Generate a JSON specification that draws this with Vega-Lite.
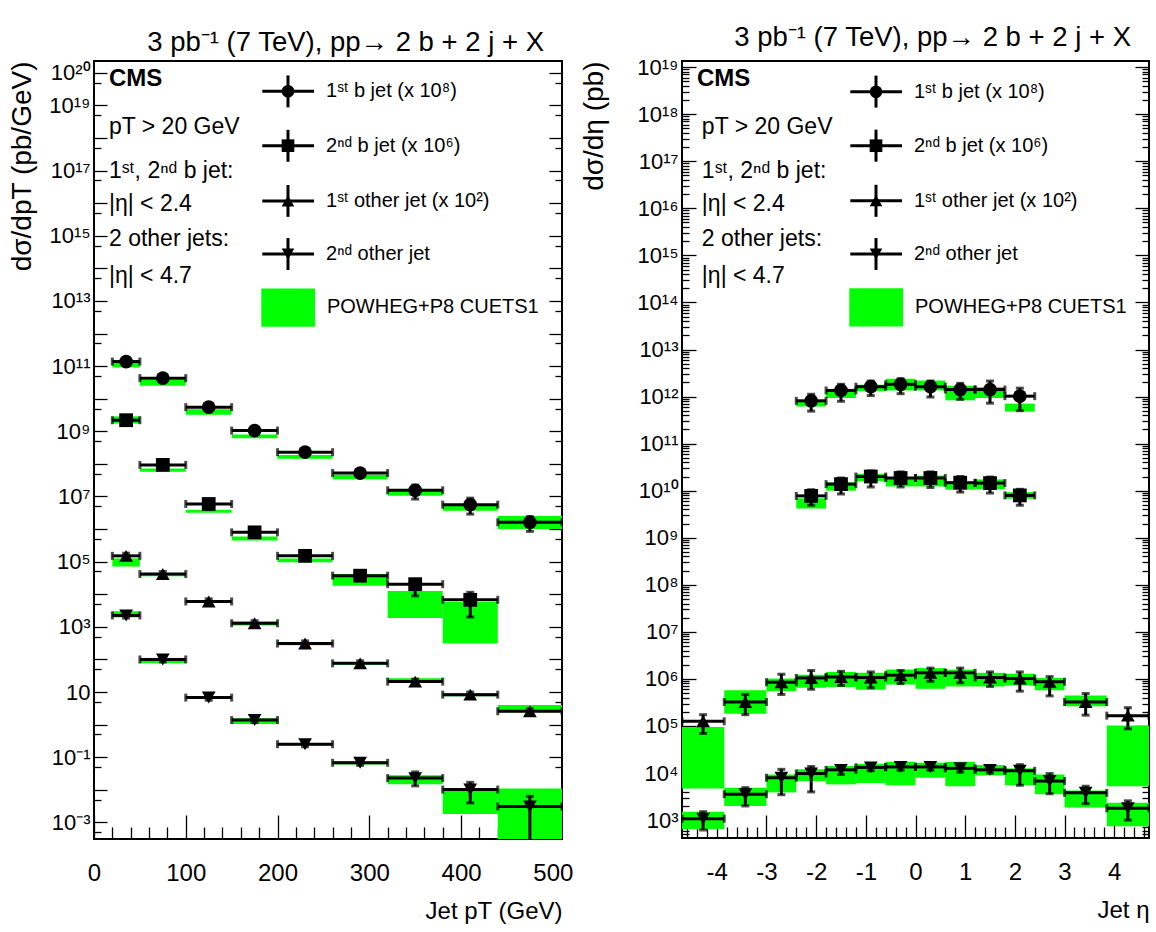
{
"$schema": "https://vega.github.io/schema/vega-lite/v6.json",
"background": "white",
"padding": {"left": 7, "top": 22, "right": 5, "bottom": 5},
"spacing": 5,
"config": {
 "font": "Liberation Sans",
 "view": {"stroke": "black", "strokeWidth": 2},
 "axis": {"domain": false, "grid": false, "tickColor": "black", "tickWidth": 1.3, "labelColor": "black", "titleColor": "black", "titleFontWeight": "normal", "labelFont": "Liberation Sans", "titleFont": "Liberation Sans"},
 "title": {"font": "Liberation Sans", "fontWeight": "normal", "color": "black"},
 "text": {"font": "Liberation Sans", "color": "black"}
},
"datasets": {
 "pt": [
  {"s":"b1","lo":20,"hi":50,"c":35,"v":1.38e11,"elo":1.15e11,"ehi":1.66e11,"mlo":9.12e10,"mhi":1.55e11},
  {"s":"b1","lo":50,"hi":100,"c":75,"v":4.27e10,"elo":3.55e10,"ehi":5.13e10,"mlo":2.51e10,"mhi":3.72e10},
  {"s":"b1","lo":100,"hi":150,"c":125,"v":5.5e9,"elo":4.57e9,"ehi":6.61e9,"mlo":3.24e9,"mhi":4.79e9},
  {"s":"b1","lo":150,"hi":200,"c":175,"v":1.05e9,"elo":8.71e8,"ehi":1.26e9,"mlo":6.17e8,"mhi":7.94e8},
  {"s":"b1","lo":200,"hi":260,"c":230,"v":2.29e8,"elo":1.91e8,"ehi":2.75e8,"mlo":1.45e8,"mhi":1.86e8},
  {"s":"b1","lo":260,"hi":320,"c":290,"v":5.25e7,"elo":4.27e7,"ehi":6.46e7,"mlo":3.39e7,"mhi":4.68e7},
  {"s":"b1","lo":320,"hi":380,"c":350,"v":1.55e7,"elo":8.32e6,"ehi":2.24e7,"mlo":1.05e7,"mhi":1.45e7},
  {"s":"b1","lo":380,"hi":440,"c":410,"v":5.62e6,"elo":2.88e6,"ehi":8.91e6,"mlo":3.63e6,"mhi":5.62e6},
  {"s":"b1","lo":440,"hi":510,"c":475,"v":1.62e6,"elo":8.51e5,"ehi":2.4e6,"mlo":1.0e6,"mhi":2.51e6},
  {"s":"b2","lo":20,"hi":50,"c":35,"v":2.19e9,"elo":1.82e9,"ehi":2.63e9,"mlo":1.74e9,"mhi":2.88e9},
  {"s":"b2","lo":50,"hi":100,"c":75,"v":9.33e7,"elo":7.76e7,"ehi":1.12e8,"mlo":5.75e7,"mhi":7.24e7},
  {"s":"b2","lo":100,"hi":150,"c":125,"v":5.89e6,"elo":4.9e6,"ehi":7.08e6,"mlo":3.16e6,"mhi":3.89e6},
  {"s":"b2","lo":150,"hi":200,"c":175,"v":7.94e5,"elo":6.61e5,"ehi":9.55e5,"mlo":4.47e5,"mhi":5.89e5},
  {"s":"b2","lo":200,"hi":260,"c":230,"v":1.51e5,"elo":1.26e5,"ehi":1.82e5,"mlo":9.55e4,"mhi":1.26e5},
  {"s":"b2","lo":260,"hi":320,"c":290,"v":3.72e4,"elo":2.95e4,"ehi":4.68e4,"mlo":1.82e4,"mhi":4.17e4},
  {"s":"b2","lo":320,"hi":380,"c":350,"v":2.04e4,"elo":8.91e3,"ehi":2.82e4,"mlo":1.86e3,"mhi":1.26e4},
  {"s":"b2","lo":380,"hi":440,"c":410,"v":6.76e3,"elo":2.0e3,"ehi":1.15e4,"mlo":309,"mhi":5.75e3},
  {"s":"o1","lo":20,"hi":50,"c":35,"v":1.51e5,"elo":1.26e5,"ehi":1.82e5,"mlo":7.08e4,"mhi":1.26e5},
  {"s":"o1","lo":50,"hi":100,"c":75,"v":4.17e4,"elo":3.47e4,"ehi":5.01e4,"mlo":3.55e4,"mhi":4.37e4},
  {"s":"o1","lo":100,"hi":150,"c":125,"v":6.03e3,"elo":5.01e3,"ehi":7.24e3,"mlo":5.37e3,"mhi":6.46e3},
  {"s":"o1","lo":150,"hi":200,"c":175,"v":1.29e3,"elo":1.07e3,"ehi":1.55e3,"mlo":1.1e3,"mhi":1.45e3},
  {"s":"o1","lo":200,"hi":260,"c":230,"v":309,"elo":257,"ehi":372,"mlo":275,"mhi":339},
  {"s":"o1","lo":260,"hi":320,"c":290,"v":75.9,"elo":63,"ehi":91,"mlo":69.2,"mhi":81.3},
  {"s":"o1","lo":320,"hi":380,"c":350,"v":20.9,"elo":17.4,"ehi":25.1,"mlo":20.9,"mhi":26.3},
  {"s":"o1","lo":380,"hi":440,"c":410,"v":8.32,"elo":6.9,"ehi":10,"mlo":7.41,"mhi":9.33},
  {"s":"o1","lo":440,"hi":510,"c":475,"v":2.57,"elo":2.14,"ehi":3.09,"mlo":2.4,"mhi":3.98},
  {"s":"o2","lo":20,"hi":50,"c":35,"v":2.24e3,"elo":1.86e3,"ehi":2.69e3,"mlo":1.95e3,"mhi":3.02e3},
  {"s":"o2","lo":50,"hi":100,"c":75,"v":100,"elo":83,"ehi":120,"mlo":75.9,"mhi":102},
  {"s":"o2","lo":100,"hi":150,"c":125,"v":6.76,"elo":5.62,"ehi":8.13,"mlo":6.17,"mhi":7.59},
  {"s":"o2","lo":150,"hi":200,"c":175,"v":1.38,"elo":1.15,"ehi":1.66,"mlo":1.05,"mhi":1.58},
  {"s":"o2","lo":200,"hi":260,"c":230,"v":0.251,"elo":0.209,"ehi":0.302,"mlo":0.229,"mhi":0.275},
  {"s":"o2","lo":260,"hi":320,"c":290,"v":0.0676,"elo":0.0562,"ehi":0.0813,"mlo":0.0603,"mhi":0.0759},
  {"s":"o2","lo":320,"hi":380,"c":350,"v":0.0229,"elo":0.0132,"ehi":0.0355,"mlo":0.0148,"mhi":0.0282},
  {"s":"o2","lo":380,"hi":440,"c":410,"v":0.0102,"elo":0.00398,"ehi":0.017,"mlo":0.00182,"mhi":0.011},
  {"s":"o2","lo":440,"hi":510,"c":475,"v":0.00309,"elo":0.00001,"ehi":0.0063,"mlo":0.0001,"mhi":0.011}
 ],
 "eta": [
  {"s":"b1","lo":-2.4,"hi":-1.8,"c":-2.1,"v":8.13e11,"elo":4.9e11,"ehi":1.12e12,"mlo":6.17e11,"mhi":7.76e11},
  {"s":"b1","lo":-1.8,"hi":-1.2,"c":-1.5,"v":1.35e12,"elo":7.94e11,"ehi":1.82e12,"mlo":9.33e11,"mhi":1.29e12},
  {"s":"b1","lo":-1.2,"hi":-0.6,"c":-0.9,"v":1.62e12,"elo":1.05e12,"ehi":2.14e12,"mlo":1.29e12,"mhi":1.78e12},
  {"s":"b1","lo":-0.6,"hi":0,"c":-0.3,"v":1.82e12,"elo":1.15e12,"ehi":2.4e12,"mlo":1.35e12,"mhi":2.4e12},
  {"s":"b1","lo":0,"hi":0.6,"c":0.3,"v":1.62e12,"elo":9.77e11,"ehi":2.14e12,"mlo":1.35e12,"mhi":2.19e12},
  {"s":"b1","lo":0.6,"hi":1.2,"c":0.9,"v":1.41e12,"elo":8.71e11,"ehi":1.91e12,"mlo":8.32e11,"mhi":1.7e12},
  {"s":"b1","lo":1.2,"hi":1.8,"c":1.5,"v":1.41e12,"elo":7.24e11,"ehi":2.14e12,"mlo":9.33e11,"mhi":1.58e12},
  {"s":"b1","lo":1.8,"hi":2.4,"c":2.1,"v":1.02e12,"elo":5.01e11,"ehi":1.51e12,"mlo":4.79e11,"mhi":7.08e11},
  {"s":"b2","lo":-2.4,"hi":-1.8,"c":-2.1,"v":7.76e9,"elo":4.9e9,"ehi":1.05e10,"mlo":4.17e9,"mhi":6.92e9},
  {"s":"b2","lo":-1.8,"hi":-1.2,"c":-1.5,"v":1.38e10,"elo":8.51e9,"ehi":1.86e10,"mlo":1.0e10,"mhi":1.51e10},
  {"s":"b2","lo":-1.2,"hi":-0.6,"c":-0.9,"v":2.0e10,"elo":1.2e10,"ehi":2.63e10,"mlo":1.58e10,"mhi":2.29e10},
  {"s":"b2","lo":-0.6,"hi":0,"c":-0.3,"v":1.86e10,"elo":1.2e10,"ehi":2.51e10,"mlo":1.23e10,"mhi":1.95e10},
  {"s":"b2","lo":0,"hi":0.6,"c":0.3,"v":1.86e10,"elo":1.17e10,"ehi":2.51e10,"mlo":1.23e10,"mhi":2.09e10},
  {"s":"b2","lo":0.6,"hi":1.2,"c":0.9,"v":1.48e10,"elo":9.33e9,"ehi":2.0e10,"mlo":1.05e10,"mhi":1.48e10},
  {"s":"b2","lo":1.2,"hi":1.8,"c":1.5,"v":1.45e10,"elo":8.91e9,"ehi":1.95e10,"mlo":1.07e10,"mhi":1.74e10},
  {"s":"b2","lo":1.8,"hi":2.4,"c":2.1,"v":7.94e9,"elo":4.9e9,"ehi":1.07e10,"mlo":6.76e9,"mhi":9.33e9},
  {"s":"o1","lo":-4.7,"hi":-3.85,"c":-4.275,"v":1.26e5,"elo":6.92e4,"ehi":1.74e5,"mlo":4.68e3,"mhi":9.55e4},
  {"s":"o1","lo":-3.85,"hi":-3.0,"c":-3.425,"v":3.24e5,"elo":1.74e5,"ehi":4.68e5,"mlo":1.82e5,"mhi":5.75e5},
  {"s":"o1","lo":-3.0,"hi":-2.4,"c":-2.7,"v":8.51e5,"elo":4.68e5,"ehi":1.26e6,"mlo":5.5e5,"mhi":1.02e6},
  {"s":"o1","lo":-2.4,"hi":-1.8,"c":-2.1,"v":1.05e6,"elo":6.03e5,"ehi":1.51e6,"mlo":6.46e5,"mhi":1.23e6},
  {"s":"o1","lo":-1.8,"hi":-1.2,"c":-1.5,"v":1.1e6,"elo":7.24e5,"ehi":1.45e6,"mlo":6.76e5,"mhi":1.41e6},
  {"s":"o1","lo":-1.2,"hi":-0.6,"c":-0.9,"v":1.07e6,"elo":6.46e5,"ehi":1.41e6,"mlo":5.89e5,"mhi":1.35e6},
  {"s":"o1","lo":-0.6,"hi":0,"c":-0.3,"v":1.2e6,"elo":7.94e5,"ehi":1.51e6,"mlo":7.59e5,"mhi":1.58e6},
  {"s":"o1","lo":0,"hi":0.6,"c":0.3,"v":1.35e6,"elo":8.91e5,"ehi":1.7e6,"mlo":6.17e5,"mhi":1.7e6},
  {"s":"o1","lo":0.6,"hi":1.2,"c":0.9,"v":1.35e6,"elo":8.32e5,"ehi":1.7e6,"mlo":6.92e5,"mhi":1.58e6},
  {"s":"o1","lo":1.2,"hi":1.8,"c":1.5,"v":1.07e6,"elo":6.92e5,"ehi":1.41e6,"mlo":6.92e5,"mhi":1.35e6},
  {"s":"o1","lo":1.8,"hi":2.4,"c":2.1,"v":1.02e6,"elo":5.5e5,"ehi":1.41e6,"mlo":7.24e5,"mhi":1.29e6},
  {"s":"o1","lo":2.4,"hi":3.0,"c":2.7,"v":8.71e5,"elo":4.37e5,"ehi":1.12e6,"mlo":5.75e5,"mhi":1.05e6},
  {"s":"o1","lo":3.0,"hi":3.85,"c":3.425,"v":3.24e5,"elo":1.7e5,"ehi":4.9e5,"mlo":2.63e5,"mhi":4.47e5},
  {"s":"o1","lo":3.85,"hi":4.7,"c":4.275,"v":1.66e5,"elo":8.71e4,"ehi":2.45e5,"mlo":5.25e3,"mhi":1.02e5},
  {"s":"o2","lo":-4.7,"hi":-3.85,"c":-4.275,"v":1.07e3,"elo":617,"ehi":1.51e3,"mlo":646,"mhi":1.51e3},
  {"s":"o2","lo":-3.85,"hi":-3.0,"c":-3.425,"v":3.55e3,"elo":2.0e3,"ehi":4.9e3,"mlo":2.0e3,"mhi":4.9e3},
  {"s":"o2","lo":-3.0,"hi":-2.4,"c":-2.7,"v":7.94e3,"elo":3.47e3,"ehi":1.2e4,"mlo":3.89e3,"mhi":9.33e3},
  {"s":"o2","lo":-2.4,"hi":-1.8,"c":-2.1,"v":9.77e3,"elo":3.98e3,"ehi":1.38e4,"mlo":6.76e3,"mhi":1.2e4},
  {"s":"o2","lo":-1.8,"hi":-1.2,"c":-1.5,"v":1.17e4,"elo":9.33e3,"ehi":1.29e4,"mlo":5.75e3,"mhi":1.41e4},
  {"s":"o2","lo":-1.2,"hi":-0.6,"c":-0.9,"v":1.32e4,"elo":1.12e4,"ehi":1.45e4,"mlo":6.17e3,"mhi":1.58e4},
  {"s":"o2","lo":-0.6,"hi":0,"c":-0.3,"v":1.35e4,"elo":1.15e4,"ehi":1.48e4,"mlo":5.5e3,"mhi":1.74e4},
  {"s":"o2","lo":0,"hi":0.6,"c":0.3,"v":1.35e4,"elo":1.15e4,"ehi":1.48e4,"mlo":7.94e3,"mhi":1.66e4},
  {"s":"o2","lo":0.6,"hi":1.2,"c":0.9,"v":1.26e4,"elo":1.05e4,"ehi":1.41e4,"mlo":5.25e3,"mhi":1.74e4},
  {"s":"o2","lo":1.2,"hi":1.8,"c":1.5,"v":1.17e4,"elo":1.0e4,"ehi":1.32e4,"mlo":8.91e3,"mhi":1.48e4},
  {"s":"o2","lo":1.8,"hi":2.4,"c":2.1,"v":1.12e4,"elo":5.5e3,"ehi":1.51e4,"mlo":5.5e3,"mhi":1.26e4},
  {"s":"o2","lo":2.4,"hi":3.0,"c":2.7,"v":6.76e3,"elo":3.63e3,"ehi":9.77e3,"mlo":3.55e3,"mhi":9.33e3},
  {"s":"o2","lo":3.0,"hi":3.85,"c":3.425,"v":3.8e3,"elo":2.24e3,"ehi":5.25e3,"mlo":1.86e3,"mhi":4.27e3},
  {"s":"o2","lo":3.85,"hi":4.7,"c":4.275,"v":1.78e3,"elo":1.0e3,"ehi":2.57e3,"mlo":741,"mhi":2.34e3}
 ],
 "legL": [
  {"s":"b1","lx":211.4,"ly":2.7e19,"xa":183.4,"xb":239.8,"ya":8.7e18,"yb":8.3e19,"label":"1ˢᵗ b jet (x 10⁸)"},
  {"s":"b2","lx":211.4,"ly":5.8e17,"xa":183.4,"xb":239.8,"ya":1.86e17,"yb":1.78e18,"label":"2ⁿᵈ b jet (x 10⁶)"},
  {"s":"o1","lx":211.4,"ly":1.17e16,"xa":183.4,"xb":239.8,"ya":3.8e15,"yb":3.6e16,"label":"1ˢᵗ other jet (x 10²)"},
  {"s":"o2","lx":211.4,"ly":2.75e14,"xa":183.4,"xb":239.8,"ya":8.9e13,"yb":8.5e14,"label":"2ⁿᵈ other jet"},
  {"s":"mc","lx":211.4,"ly":6.3e12,"xa":182.3,"xb":240.8,"ya":1.62e12,"yb":2.4e13,"label":"POWHEG+P8 CUETS1"}
 ],
 "legR": [
  {"s":"b1","lx":-0.795,"ly":3.0e18,"xa":-1.312,"xb":-0.272,"ya":1.38e18,"yb":6.6e18,"label":"1ˢᵗ b jet (x 10⁸)"},
  {"s":"b2","lx":-0.795,"ly":2.14e17,"xa":-1.312,"xb":-0.272,"ya":9.8e16,"yb":4.7e17,"label":"2ⁿᵈ b jet (x 10⁶)"},
  {"s":"o1","lx":-0.795,"ly":1.45e16,"xa":-1.312,"xb":-0.272,"ya":6.6e15,"yb":3.16e16,"label":"1ˢᵗ other jet (x 10²)"},
  {"s":"o2","lx":-0.795,"ly":1.07e15,"xa":-1.312,"xb":-0.272,"ya":4.9e14,"yb":2.34e15,"label":"2ⁿᵈ other jet"},
  {"s":"mc","lx":-0.795,"ly":7.9e13,"xa":-1.333,"xb":-0.252,"ya":3.1e13,"yb":2.0e14,"label":"POWHEG+P8 CUETS1"}
 ],
 "annL": [
  {"t":"CMS","x":16.3,"y":6.3e19},
  {"t":"pT > 20 GeV","x":16.3,"y":2.14e18},
  {"t":"1ˢᵗ, 2ⁿᵈ b jet:","x":16.3,"y":9.8e16},
  {"t":"|η| < 2.4","x":16.3,"y":9.3e15},
  {"t":"2 other jets:","x":16.3,"y":7.9e14},
  {"t":"|η| < 4.7","x":16.3,"y":5.9e13}
 ],
 "annR": [
  {"t":"CMS","x":-4.4,"y":5.6e18},
  {"t":"pT > 20 GeV","x":-4.3,"y":5.4e17},
  {"t":"1ˢᵗ, 2ⁿᵈ b jet:","x":-4.3,"y":6.3e16},
  {"t":"|η| < 2.4","x":-4.3,"y":1.23e16},
  {"t":"2 other jets:","x":-4.3,"y":2.24e15},
  {"t":"|η| < 4.7","x":-4.3,"y":3.7e14}
 ]
},
"hconcat": [
 {
  "width": 468, "height": 778,
  "title": {"text": "3 pb⁻¹ (7 TeV), pp→ 2 b + 2 j + X", "anchor": "end", "frame": "group", "fontSize": 27.5, "fontWeight": "normal", "dx": -18, "offset": 5},
  "resolve": {"axis": {"x": "independent", "y": "independent"}},
  "layer": [
   {"data": {"name": "pt"}, "mark": {"type": "rect", "color": "#00ff00", "clip": true},
    "encoding": {
     "x": {"field": "lo", "type": "quantitative", "scale": {"domain": [0, 510], "nice": false, "zero": false},
       "axis": {"orient": "bottom", "values": [0,20,40,60,80,100,120,140,160,180,200,220,240,260,280,300,320,340,360,380,400,420,440,460,480,500],
        "labelExpr": "datum.value % 100 === 0 ? '' + datum.value : ''",
        "tickSize": {"condition": {"test": "datum.value % 100 === 0", "value": -24}, "value": -12},
        "labelPadding": 46, "labelFontSize": 24, "labelOverlap": false, "labelFlush": false,
        "title": "Jet pT (GeV)", "titleAnchor": "end", "titleFontSize": 24, "titlePadding": 2}},
     "x2": {"field": "hi"},
     "y": {"field": "mlo", "type": "quantitative", "scale": {"type": "log", "domain": [3.1e-4, 2.3e20], "nice": false},
       "axis": {"orient": "left", "values": [5e-4,1e-3,5e-3,0.01,0.05,0.1,0.5,1,5,10,50,100,500,1000,5000,1e4,5e4,1e5,5e5,1e6,5e6,1e7,5e7,1e8,5e8,1e9,5e9,1e10,5e10,1e11,5e11,1e12,5e12,1e13,5e13,1e14,5e14,1e15,5e15,1e16,5e16,1e17,5e17,1e18,5e18,1e19,5e19,1e20],
        "labelExpr": "abs(log(datum.value)/LN10 - round(log(datum.value)/LN10)) > 0.01 ? '' : ['10⁻³','','10⁻¹','','10','','10³','','10⁵','','10⁷','','10⁹','','10¹¹','','10¹³','','10¹⁵','','10¹⁷','','10¹⁹','10²⁰'][round(log(datum.value)/LN10)+3]",
        "tickSize": {"condition": {"test": "abs(log(datum.value)/LN10 - round(log(datum.value)/LN10)) < 0.01", "value": -13}, "value": -7},
        "labelPadding": 17, "labelFontSize": 22, "labelOverlap": false, "labelFlush": false,
        "title": "dσ/dpT (pb/GeV)", "titleAnchor": "end", "titleFontSize": 28, "titlePadding": 12}},
     "y2": {"field": "mhi"}
    }},
   {"data": {"name": "pt"}, "mark": {"type": "errorbar", "ticks": true, "thickness": 3, "size": 8, "color": "black", "clip": true},
    "encoding": {
     "x": {"field": "lo", "type": "quantitative", "scale": {"domain": [0, 510], "nice": false, "zero": false}, "axis": null},
     "x2": {"field": "hi"},
     "y": {"field": "v", "type": "quantitative", "scale": {"type": "log", "domain": [3.1e-4, 2.3e20], "nice": false}, "axis": null}
    }},
   {"data": {"name": "pt"}, "mark": {"type": "errorbar", "ticks": true, "thickness": 3, "size": 8, "color": "black", "clip": true},
    "encoding": {
     "x": {"field": "c", "type": "quantitative", "scale": {"domain": [0, 510], "nice": false, "zero": false}, "axis": null},
     "y": {"field": "elo", "type": "quantitative", "scale": {"type": "log", "domain": [3.1e-4, 2.3e20], "nice": false}, "axis": null},
     "y2": {"field": "ehi"}
    }},
   {"data": {"name": "pt"}, "mark": {"type": "point", "filled": true, "opacity": 1, "color": "black", "size": 190, "clip": true},
    "encoding": {
     "x": {"field": "c", "type": "quantitative", "scale": {"domain": [0, 510], "nice": false, "zero": false}, "axis": null},
     "y": {"field": "v", "type": "quantitative", "scale": {"type": "log", "domain": [3.1e-4, 2.3e20], "nice": false},
       "axis": {"orient": "right", "values": [5e-4,1e-3,5e-3,0.01,0.05,0.1,0.5,1,5,10,50,100,500,1000,5000,1e4,5e4,1e5,5e5,1e6,5e6,1e7,5e7,1e8,5e8,1e9,5e9,1e10,5e10,1e11,5e11,1e12,5e12,1e13,5e13,1e14,5e14,1e15,5e15,1e16,5e16,1e17,5e17,1e18,5e18,1e19,5e19,1e20],
        "labels": false, "title": null,
        "tickSize": {"condition": {"test": "abs(log(datum.value)/LN10 - round(log(datum.value)/LN10)) < 0.01", "value": -13}, "value": -7}}},
     "shape": {"field": "s", "type": "nominal", "scale": {"domain": ["b1","b2","o1","o2"], "range": ["circle","square","triangle-up","triangle-down"]}, "legend": null}
    }},
   {"data": {"name": "legL"}, "transform": [{"filter": "datum.s != 'mc'"}], "mark": {"type": "rule", "strokeWidth": 3, "color": "black"},
    "encoding": {
     "x": {"field": "xa", "type": "quantitative", "scale": {"domain": [0, 510], "nice": false, "zero": false}, "axis": null},
     "x2": {"field": "xb"},
     "y": {"field": "ly", "type": "quantitative", "scale": {"type": "log", "domain": [3.1e-4, 2.3e20], "nice": false}, "axis": null}
    }},
   {"data": {"name": "legL"}, "transform": [{"filter": "datum.s != 'mc'"}], "mark": {"type": "rule", "strokeWidth": 3, "color": "black"},
    "encoding": {
     "x": {"field": "lx", "type": "quantitative", "scale": {"domain": [0, 510], "nice": false, "zero": false}, "axis": null},
     "y": {"field": "ya", "type": "quantitative", "scale": {"type": "log", "domain": [3.1e-4, 2.3e20], "nice": false}, "axis": null},
     "y2": {"field": "yb"}
    }},
   {"data": {"name": "legL"}, "transform": [{"filter": "datum.s != 'mc'"}], "mark": {"type": "point", "filled": true, "opacity": 1, "color": "black", "size": 160},
    "encoding": {
     "x": {"field": "lx", "type": "quantitative", "scale": {"domain": [0, 510], "nice": false, "zero": false}, "axis": null},
     "y": {"field": "ly", "type": "quantitative", "scale": {"type": "log", "domain": [3.1e-4, 2.3e20], "nice": false}, "axis": null},
     "shape": {"field": "s", "type": "nominal", "scale": {"domain": ["b1","b2","o1","o2"], "range": ["circle","square","triangle-up","triangle-down"]}, "legend": null}
    }},
   {"data": {"name": "legL"}, "transform": [{"filter": "datum.s == 'mc'"}], "mark": {"type": "rect", "color": "#00ff00"},
    "encoding": {
     "x": {"field": "xa", "type": "quantitative", "scale": {"domain": [0, 510], "nice": false, "zero": false}, "axis": null},
     "x2": {"field": "xb"},
     "y": {"field": "ya", "type": "quantitative", "scale": {"type": "log", "domain": [3.1e-4, 2.3e20], "nice": false}, "axis": null},
     "y2": {"field": "yb"}
    }},
   {"data": {"name": "legL"}, "mark": {"type": "text", "align": "left", "baseline": "middle", "fontSize": 20, "dx": 12},
    "encoding": {
     "x": {"field": "xb", "type": "quantitative", "scale": {"domain": [0, 510], "nice": false, "zero": false}, "axis": null},
     "y": {"field": "ly", "type": "quantitative", "scale": {"type": "log", "domain": [3.1e-4, 2.3e20], "nice": false}, "axis": null},
     "text": {"field": "label"}
    }},
   {"data": {"name": "annL"}, "transform": [{"filter": "datum.t == 'CMS'"}], "mark": {"type": "text", "align": "left", "baseline": "middle", "fontSize": 24, "fontWeight": "bold"},
    "encoding": {
     "x": {"field": "x", "type": "quantitative", "scale": {"domain": [0, 510], "nice": false, "zero": false}, "axis": null},
     "y": {"field": "y", "type": "quantitative", "scale": {"type": "log", "domain": [3.1e-4, 2.3e20], "nice": false}, "axis": null},
     "text": {"field": "t"}
    }},
   {"data": {"name": "annL"}, "transform": [{"filter": "datum.t != 'CMS'"}], "mark": {"type": "text", "align": "left", "baseline": "middle", "fontSize": 23},
    "encoding": {
     "x": {"field": "x", "type": "quantitative", "scale": {"domain": [0, 510], "nice": false, "zero": false}, "axis": null},
     "y": {"field": "y", "type": "quantitative", "scale": {"type": "log", "domain": [3.1e-4, 2.3e20], "nice": false}, "axis": null},
     "text": {"field": "t"}
    }}
  ]
 },
 {
  "width": 467, "height": 777,
  "title": {"text": "3 pb⁻¹ (7 TeV), pp→ 2 b + 2 j + X", "anchor": "end", "frame": "group", "fontSize": 27.5, "fontWeight": "normal", "dx": -18, "offset": 5},
  "resolve": {"axis": {"x": "independent", "y": "independent"}},
  "layer": [
   {"data": {"name": "eta"}, "mark": {"type": "rect", "color": "#00ff00", "clip": true},
    "encoding": {
     "x": {"field": "lo", "type": "quantitative", "scale": {"domain": [-4.7, 4.7], "nice": false, "zero": false},
       "axis": {"orient": "bottom", "values": [-4.6,-4.4,-4.2,-4,-3.8,-3.6,-3.4,-3.2,-3,-2.8,-2.6,-2.4,-2.2,-2,-1.8,-1.6,-1.4,-1.2,-1,-0.8,-0.6,-0.4,-0.2,0,0.2,0.4,0.6,0.8,1,1.2,1.4,1.6,1.8,2,2.2,2.4,2.6,2.8,3,3.2,3.4,3.6,3.8,4,4.2,4.4,4.6],
        "labelExpr": "abs(datum.value - round(datum.value)) < 0.001 ? '' + round(datum.value) : ''",
        "tickSize": {"condition": {"test": "abs(datum.value - round(datum.value)) < 0.001", "value": -23}, "value": -11},
        "labelPadding": 45, "labelFontSize": 24, "labelOverlap": false, "labelFlush": false,
        "title": "Jet η", "titleAnchor": "end", "titleFontSize": 24, "titlePadding": 2}},
     "x2": {"field": "hi"},
     "y": {"field": "mlo", "type": "quantitative", "scale": {"type": "log", "domain": [417, 1.35e19], "nice": false},
       "axis": {"orient": "left", "values": [500,600,700,800,900,1e3,2e3,3e3,4e3,5e3,6e3,7e3,8e3,9e3,1e4,2e4,3e4,4e4,5e4,6e4,7e4,8e4,9e4,1e5,2e5,3e5,4e5,5e5,6e5,7e5,8e5,9e5,1e6,2e6,3e6,4e6,5e6,6e6,7e6,8e6,9e6,1e7,2e7,3e7,4e7,5e7,6e7,7e7,8e7,9e7,1e8,2e8,3e8,4e8,5e8,6e8,7e8,8e8,9e8,1e9,2e9,3e9,4e9,5e9,6e9,7e9,8e9,9e9,1e10,2e10,3e10,4e10,5e10,6e10,7e10,8e10,9e10,1e11,2e11,3e11,4e11,5e11,6e11,7e11,8e11,9e11,1e12,2e12,3e12,4e12,5e12,6e12,7e12,8e12,9e12,1e13,2e13,3e13,4e13,5e13,6e13,7e13,8e13,9e13,1e14,2e14,3e14,4e14,5e14,6e14,7e14,8e14,9e14,1e15,2e15,3e15,4e15,5e15,6e15,7e15,8e15,9e15,1e16,2e16,3e16,4e16,5e16,6e16,7e16,8e16,9e16,1e17,2e17,3e17,4e17,5e17,6e17,7e17,8e17,9e17,1e18,2e18,3e18,4e18,5e18,6e18,7e18,8e18,9e18,1e19],
        "labelExpr": "abs(log(datum.value)/LN10 - round(log(datum.value)/LN10)) > 0.01 ? '' : ['10³','10⁴','10⁵','10⁶','10⁷','10⁸','10⁹','10¹⁰','10¹¹','10¹²','10¹³','10¹⁴','10¹⁵','10¹⁶','10¹⁷','10¹⁸','10¹⁹'][round(log(datum.value)/LN10)-3]",
        "tickSize": {"condition": {"test": "abs(log(datum.value)/LN10 - round(log(datum.value)/LN10)) < 0.01", "value": -14}, "value": -7},
        "labelPadding": 18, "labelFontSize": 22, "labelOverlap": false, "labelFlush": false,
        "title": "dσ/dη (pb)", "titleAnchor": "end", "titleFontSize": 28, "titlePadding": 28}},
     "y2": {"field": "mhi"}
    }},
   {"data": {"name": "eta"}, "mark": {"type": "errorbar", "ticks": true, "thickness": 3, "size": 8, "color": "black", "clip": true},
    "encoding": {
     "x": {"field": "lo", "type": "quantitative", "scale": {"domain": [-4.7, 4.7], "nice": false, "zero": false}, "axis": null},
     "x2": {"field": "hi"},
     "y": {"field": "v", "type": "quantitative", "scale": {"type": "log", "domain": [417, 1.35e19], "nice": false}, "axis": null}
    }},
   {"data": {"name": "eta"}, "mark": {"type": "errorbar", "ticks": true, "thickness": 3, "size": 8, "color": "black", "clip": true},
    "encoding": {
     "x": {"field": "c", "type": "quantitative", "scale": {"domain": [-4.7, 4.7], "nice": false, "zero": false}, "axis": null},
     "y": {"field": "elo", "type": "quantitative", "scale": {"type": "log", "domain": [417, 1.35e19], "nice": false}, "axis": null},
     "y2": {"field": "ehi"}
    }},
   {"data": {"name": "eta"}, "mark": {"type": "point", "filled": true, "opacity": 1, "color": "black", "size": 190, "clip": true},
    "encoding": {
     "x": {"field": "c", "type": "quantitative", "scale": {"domain": [-4.7, 4.7], "nice": false, "zero": false}, "axis": null},
     "y": {"field": "v", "type": "quantitative", "scale": {"type": "log", "domain": [417, 1.35e19], "nice": false},
       "axis": {"orient": "right", "values": [500,600,700,800,900,1e3,2e3,3e3,4e3,5e3,6e3,7e3,8e3,9e3,1e4,2e4,3e4,4e4,5e4,6e4,7e4,8e4,9e4,1e5,2e5,3e5,4e5,5e5,6e5,7e5,8e5,9e5,1e6,2e6,3e6,4e6,5e6,6e6,7e6,8e6,9e6,1e7,2e7,3e7,4e7,5e7,6e7,7e7,8e7,9e7,1e8,2e8,3e8,4e8,5e8,6e8,7e8,8e8,9e8,1e9,2e9,3e9,4e9,5e9,6e9,7e9,8e9,9e9,1e10,2e10,3e10,4e10,5e10,6e10,7e10,8e10,9e10,1e11,2e11,3e11,4e11,5e11,6e11,7e11,8e11,9e11,1e12,2e12,3e12,4e12,5e12,6e12,7e12,8e12,9e12,1e13,2e13,3e13,4e13,5e13,6e13,7e13,8e13,9e13,1e14,2e14,3e14,4e14,5e14,6e14,7e14,8e14,9e14,1e15,2e15,3e15,4e15,5e15,6e15,7e15,8e15,9e15,1e16,2e16,3e16,4e16,5e16,6e16,7e16,8e16,9e16,1e17,2e17,3e17,4e17,5e17,6e17,7e17,8e17,9e17,1e18,2e18,3e18,4e18,5e18,6e18,7e18,8e18,9e18,1e19],
        "labels": false, "title": null,
        "tickSize": {"condition": {"test": "abs(log(datum.value)/LN10 - round(log(datum.value)/LN10)) < 0.01", "value": -14}, "value": -7}}},
     "shape": {"field": "s", "type": "nominal", "scale": {"domain": ["b1","b2","o1","o2"], "range": ["circle","square","triangle-up","triangle-down"]}, "legend": null}
    }},
   {"data": {"name": "legR"}, "transform": [{"filter": "datum.s != 'mc'"}], "mark": {"type": "rule", "strokeWidth": 3, "color": "black"},
    "encoding": {
     "x": {"field": "xa", "type": "quantitative", "scale": {"domain": [-4.7, 4.7], "nice": false, "zero": false}, "axis": null},
     "x2": {"field": "xb"},
     "y": {"field": "ly", "type": "quantitative", "scale": {"type": "log", "domain": [417, 1.35e19], "nice": false}, "axis": null}
    }},
   {"data": {"name": "legR"}, "transform": [{"filter": "datum.s != 'mc'"}], "mark": {"type": "rule", "strokeWidth": 3, "color": "black"},
    "encoding": {
     "x": {"field": "lx", "type": "quantitative", "scale": {"domain": [-4.7, 4.7], "nice": false, "zero": false}, "axis": null},
     "y": {"field": "ya", "type": "quantitative", "scale": {"type": "log", "domain": [417, 1.35e19], "nice": false}, "axis": null},
     "y2": {"field": "yb"}
    }},
   {"data": {"name": "legR"}, "transform": [{"filter": "datum.s != 'mc'"}], "mark": {"type": "point", "filled": true, "opacity": 1, "color": "black", "size": 160},
    "encoding": {
     "x": {"field": "lx", "type": "quantitative", "scale": {"domain": [-4.7, 4.7], "nice": false, "zero": false}, "axis": null},
     "y": {"field": "ly", "type": "quantitative", "scale": {"type": "log", "domain": [417, 1.35e19], "nice": false}, "axis": null},
     "shape": {"field": "s", "type": "nominal", "scale": {"domain": ["b1","b2","o1","o2"], "range": ["circle","square","triangle-up","triangle-down"]}, "legend": null}
    }},
   {"data": {"name": "legR"}, "transform": [{"filter": "datum.s == 'mc'"}], "mark": {"type": "rect", "color": "#00ff00"},
    "encoding": {
     "x": {"field": "xa", "type": "quantitative", "scale": {"domain": [-4.7, 4.7], "nice": false, "zero": false}, "axis": null},
     "x2": {"field": "xb"},
     "y": {"field": "ya", "type": "quantitative", "scale": {"type": "log", "domain": [417, 1.35e19], "nice": false}, "axis": null},
     "y2": {"field": "yb"}
    }},
   {"data": {"name": "legR"}, "mark": {"type": "text", "align": "left", "baseline": "middle", "fontSize": 20, "dx": 12},
    "encoding": {
     "x": {"field": "xb", "type": "quantitative", "scale": {"domain": [-4.7, 4.7], "nice": false, "zero": false}, "axis": null},
     "y": {"field": "ly", "type": "quantitative", "scale": {"type": "log", "domain": [417, 1.35e19], "nice": false}, "axis": null},
     "text": {"field": "label"}
    }},
   {"data": {"name": "annR"}, "transform": [{"filter": "datum.t == 'CMS'"}], "mark": {"type": "text", "align": "left", "baseline": "middle", "fontSize": 24, "fontWeight": "bold"},
    "encoding": {
     "x": {"field": "x", "type": "quantitative", "scale": {"domain": [-4.7, 4.7], "nice": false, "zero": false}, "axis": null},
     "y": {"field": "y", "type": "quantitative", "scale": {"type": "log", "domain": [417, 1.35e19], "nice": false}, "axis": null},
     "text": {"field": "t"}
    }},
   {"data": {"name": "annR"}, "transform": [{"filter": "datum.t != 'CMS'"}], "mark": {"type": "text", "align": "left", "baseline": "middle", "fontSize": 23},
    "encoding": {
     "x": {"field": "x", "type": "quantitative", "scale": {"domain": [-4.7, 4.7], "nice": false, "zero": false}, "axis": null},
     "y": {"field": "y", "type": "quantitative", "scale": {"type": "log", "domain": [417, 1.35e19], "nice": false}, "axis": null},
     "text": {"field": "t"}
    }}
  ]
 }
]
}
